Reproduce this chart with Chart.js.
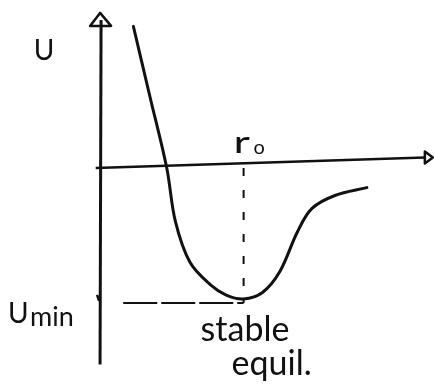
<!DOCTYPE html>
<html>
<head>
<meta charset="utf-8">
<script src="https://cdn.jsdelivr.net/npm/chart.js@4"></script>
<style>
  html, body { margin: 0; padding: 0; background: #fff; }
</style>
</head>
<body>
<canvas id="potential" width="434" height="385"></canvas>
<script>
// separation r (in units of r0) and potential energy U (in units of |Umin|)
const rValues = [0.23, 0.345, 0.46, 0.52, 0.62, 0.76, 0.87, 0.99, 1.12, 1.24, 1.36, 1.46, 1.62, 1.84];
const uValues = [1.08, 0.54, 0.00, -0.41, -0.72, -0.89, -0.97, -1.00, -0.95, -0.79, -0.49, -0.31, -0.21, -0.15];

// equilibrium separation and the level of the dashed Umin guide
const r0 = 0.99;
const uMin = -1.03;

// hand drawn axes (the r axis is slightly tilted)
const rAxisR = [-0.03, 2.24];
const rAxisU = [0, 0.08];
const uAxisR = [0.007, 0];
const uAxisU = [1.13, -1.50];

const axisNames = ["U", "r", "U"];
const axisSubs = ["", "o", "min"];
const noteLines = ["stable", "equil."];

const pts = (xs, ys) => xs.map((x, i) => ({ x: x, y: ys[i] }));

const ink = "#111";
const hand = "'Lato', 'Open Sans', sans-serif";

const decorations = {
    id: "decorations",
    afterDatasetsDraw(chart) {
        const ctx = chart.ctx;
        const xs = chart.scales.x;
        const ys = chart.scales.y;
        ctx.save();
        ctx.strokeStyle = ink;
        ctx.fillStyle = ink;
        ctx.lineWidth = 2.5;
        ctx.lineJoin = "round";

        // arrow on r axis
        const ax = xs.getPixelForValue(rAxisR[1]);
        const ay = ys.getPixelForValue(rAxisU[1]);
        ctx.beginPath();
        ctx.moveTo(ax, ay - 6);
        ctx.lineTo(ax + 8, ay);
        ctx.lineTo(ax, ay + 6);
        ctx.closePath();
        ctx.stroke();

        // arrow on U axis
        const bx = xs.getPixelForValue(uAxisR[0]);
        const by = ys.getPixelForValue(uAxisU[0]);
        ctx.beginPath();
        ctx.moveTo(bx - 11, by + 6);
        ctx.lineTo(bx - 1, by - 7);
        ctx.lineTo(bx + 10, by + 6);
        ctx.closePath();
        ctx.stroke();

        // small mark on the U axis at Umin
        const my = ys.getPixelForValue(uMin);
        const mx = xs.getPixelForValue(0);
        ctx.beginPath();
        ctx.moveTo(mx - 3, my - 8);
        ctx.lineTo(mx - 1, my - 2);
        ctx.stroke();

        ctx.textBaseline = "alphabetic";

        // U label beside the top of the axis
        ctx.font = "28px " + hand;
        ctx.textAlign = "center";
        ctx.fillText(axisNames[0], bx - 57, by + 40);

        // r0 above the equilibrium position
        const rx = xs.getPixelForValue(r0);
        const ry = ys.getPixelForValue(0);
        ctx.textAlign = "left";
        ctx.save();
        ctx.translate(rx - 10, ry - 15);
        ctx.scale(1.5, 1);
        ctx.font = "30px " + hand;
        ctx.fillText(axisNames[1], 0, 0);
        ctx.restore();
        ctx.font = "20px " + hand;
        ctx.fillText(axisSubs[1], rx + 10, ry - 14);

        // Umin to the left of the axis
        ctx.font = "28px " + hand;
        ctx.fillText(axisNames[2], mx - 92, my + 20);
        ctx.font = "27px " + hand;
        ctx.fillText(axisSubs[2], mx - 70, my + 23);

        // note under the minimum
        ctx.font = "34px " + hand;
        ctx.fillText(noteLines[0], rx - 43, my + 38);
        ctx.fillText(noteLines[1], rx - 12, my + 72);

        ctx.restore();
    }
};

const line = (data, extra) => Object.assign({
    data: data,
    showLine: true,
    borderColor: ink,
    borderWidth: 3,
    pointRadius: 0,
    fill: false
}, extra);

new Chart(document.getElementById("potential"), {
    type: "scatter",
    data: {
        datasets: [
            line(pts(rAxisR, rAxisU), { borderWidth: 2.5 }),
            line(pts(uAxisR, uAxisU), { borderWidth: 3 }),
            line(pts([r0, r0], [0, uMin]), { borderWidth: 2, borderDash: [8, 14] }),
            line(pts([0.16, r0], [uMin, uMin]), { borderWidth: 2, borderDash: [34, 4] }),
            line(pts(rValues, uValues), { tension: 0.35, borderCapStyle: "round" })
        ]
    },
    options: {
        responsive: false,
        animation: false,
        devicePixelRatio: 1,
        layout: { padding: 0 },
        plugins: {
            legend: { display: false },
            tooltip: { enabled: false }
        },
        scales: {
            x: { type: "linear", min: -0.69, max: 2.303, display: false },
            y: { type: "linear", min: -1.656, max: 1.282, display: false }
        }
    },
    plugins: [decorations]
});
</script>
</body>
</html>
